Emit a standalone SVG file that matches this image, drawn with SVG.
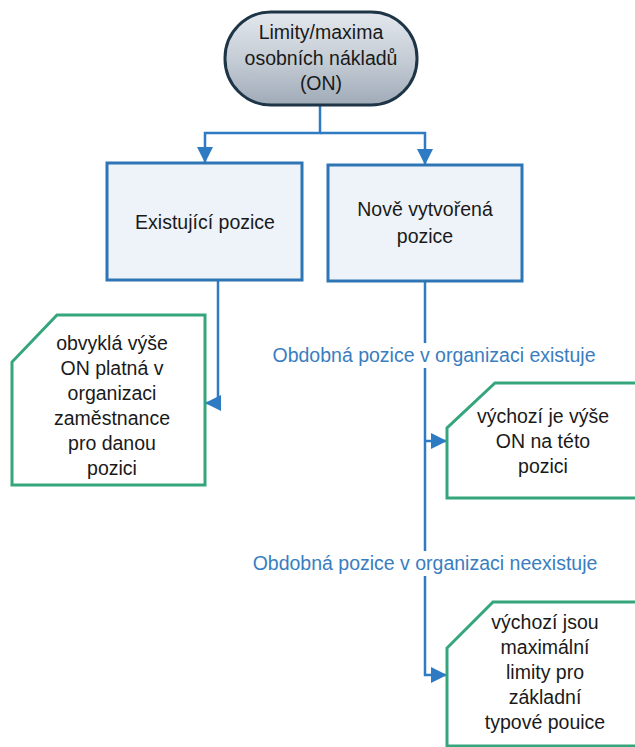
<svg xmlns="http://www.w3.org/2000/svg" width="635" height="747" viewBox="0 0 635 747">
<defs>
<linearGradient id="tg" x1="0" y1="0" x2="0" y2="1">
<stop offset="0" stop-color="#e4e8ee"/>
<stop offset="0.55" stop-color="#c2cad3"/>
<stop offset="1" stop-color="#a0abb8"/>
</linearGradient>
<marker id="ah" markerUnits="userSpaceOnUse" markerWidth="16" markerHeight="16" refX="16" refY="8" orient="auto" viewBox="0 0 16 16">
<path d="M0,0 L16,8 L0,16 z" fill="#2e7bc4"/>
</marker>
<style>
text{font-family:"Liberation Sans",Arial,sans-serif;font-size:19.5px;fill:#1a1a1a;text-anchor:middle}
.box{fill:#eef3f9;stroke:#2e75b6;stroke-width:3}
.note{fill:#ffffff;stroke:#35a57c;stroke-width:3}
.con{fill:none;stroke:#2e7bc4;stroke-width:2.5}
.lbl{fill:#3a7dc0}
</style>
</defs>
<rect width="635" height="747" fill="#ffffff"/>
<g id="connectors">
<path class="con" d="M320,105 V133 H205 V163" marker-end="url(#ah)"/>
<path class="con" d="M320,133 H425 V165" marker-end="url(#ah)"/>
<path class="con" d="M218,280 V403 H205" marker-end="url(#ah)"/>
<path class="con" d="M425,281 V675 H447" marker-end="url(#ah)"/>
<path class="con" d="M425,441 H447" marker-end="url(#ah)"/>
<rect x="266" y="343" width="336" height="25" fill="#ffffff"/>
<text class="lbl" x="434" y="362">Obdobná pozice v organizaci existuje</text>
<rect x="246" y="551" width="358" height="25" fill="#ffffff"/>
<text class="lbl" x="425" y="570">Obdobná pozice v organizaci neexistuje</text>
</g>
<g id="start">
<rect x="225" y="12" width="192" height="93" rx="46" ry="46" fill="url(#tg)" stroke="#1e3547" stroke-width="3"/>
<text x="321" y="39">Limity/maxima</text>
<text x="321" y="65">osobních nákladů</text>
<text x="321" y="90">(ON)</text>
</g>
<g id="existing">
<rect class="box" x="107" y="163" width="195" height="117"/>
<text x="205" y="229">Existující pozice</text>
</g>
<g id="new">
<rect class="box" x="328" y="165" width="194" height="116"/>
<text x="425" y="216">Nově vytvořená</text>
<text x="425" y="243">pozice</text>
</g>
<g id="note1">
<polygon class="note" points="57,315 205,315 205,485 12,485 12,362"/>
<text x="112" y="350">obvyklá výše</text>
<text x="112" y="375">ON platná v</text>
<text x="112" y="400">organizaci</text>
<text x="112" y="425">zaměstnance</text>
<text x="112" y="450">pro danou</text>
<text x="112" y="475">pozici</text>
</g>
<g id="note2">
<polygon class="note" points="495,383 645,383 645,498 447,498 447,428"/>
<text x="543" y="423">výchozí je výše</text>
<text x="543" y="448">ON na této</text>
<text x="543" y="473">pozici</text>
</g>
<g id="note3">
<polygon class="note" points="493,602 645,602 645,746 447,746 447,648"/>
<text x="545" y="629">výchozí jsou</text>
<text x="545" y="654">maximální</text>
<text x="545" y="679">limity pro</text>
<text x="545" y="704">základní</text>
<text x="545" y="729">typové pouice</text>
</g>
</svg>
